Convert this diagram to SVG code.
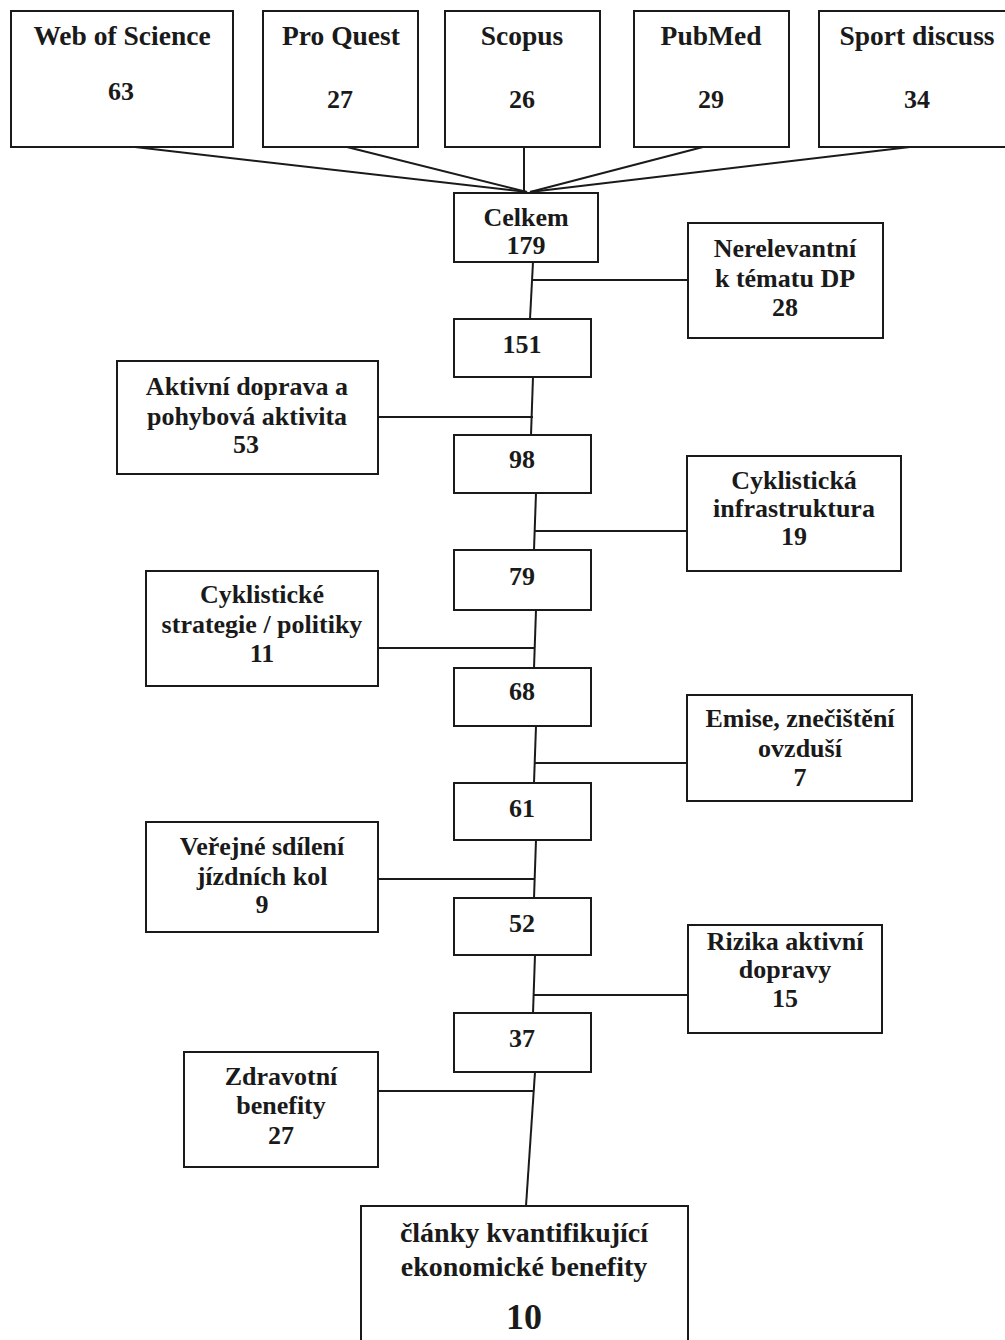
<svg xmlns="http://www.w3.org/2000/svg" width="1005" height="1340" viewBox="0 0 1005 1340">
<style>
.b{fill:#fff;stroke:#1a1a1a;stroke-width:2}
.t{font-family:"Liberation Serif","Times New Roman",serif;font-weight:bold;font-size:26px;fill:#1a1a1a;text-anchor:middle}
.h{font-size:27.5px}
.c line{stroke:#1a1a1a;stroke-width:2}
</style>
<rect width="1005" height="1340" fill="#fff"/>
<g class="c" id="connectors">
<line x1="135" y1="147" x2="527" y2="192"/>
<line x1="347" y1="147" x2="527" y2="192"/>
<line x1="524" y1="147" x2="524" y2="193"/>
<line x1="703" y1="147" x2="530" y2="192"/>
<line x1="910" y1="147" x2="530" y2="192"/>
<line x1="533" y1="262" x2="530" y2="319"/>
<line x1="533" y1="280" x2="688" y2="280"/>
<line x1="533" y1="377" x2="531" y2="435"/>
<line x1="378" y1="417" x2="533" y2="417"/>
<line x1="536" y1="493" x2="534" y2="550"/>
<line x1="535" y1="531" x2="688" y2="531"/>
<line x1="536" y1="610" x2="534" y2="668"/>
<line x1="378" y1="648" x2="535" y2="648"/>
<line x1="536" y1="726" x2="534" y2="783"/>
<line x1="535" y1="763" x2="688" y2="763"/>
<line x1="536" y1="840" x2="534" y2="898"/>
<line x1="378" y1="879" x2="535" y2="879"/>
<line x1="535" y1="955" x2="533" y2="1013"/>
<line x1="534" y1="995" x2="688" y2="995"/>
<line x1="535" y1="1072" x2="526" y2="1206"/>
<line x1="378" y1="1091" x2="534" y2="1091"/>
</g>
<g id="wos"><rect class="b" x="11" y="11" width="222" height="136"/><text class="t h" x="122" y="45">Web of Science</text><text class="t" x="121" y="100">63</text></g>
<g id="proquest"><rect class="b" x="263" y="11" width="155" height="136"/><text class="t h" x="341" y="45">Pro Quest</text><text class="t" x="340" y="108">27</text></g>
<g id="scopus"><rect class="b" x="445" y="11" width="155" height="136"/><text class="t h" x="522" y="45">Scopus</text><text class="t" x="522" y="108">26</text></g>
<g id="pubmed"><rect class="b" x="634" y="11" width="155" height="136"/><text class="t h" x="711" y="45">PubMed</text><text class="t" x="711" y="108">29</text></g>
<g id="sport"><rect class="b" x="819" y="11" width="200" height="136"/><text class="t h" x="917" y="45">Sport discuss</text><text class="t" x="917" y="108">34</text></g>
<g id="celkem"><rect class="b" x="454" y="193" width="144" height="69"/><text class="t" x="526" y="226">Celkem</text><text class="t" x="526" y="254">179</text></g>
<g id="nerelevantni"><rect class="b" x="688" y="223" width="195" height="115"/><text class="t" x="785" y="257">Nerelevantní</text><text class="t" x="785" y="287">k tématu DP</text><text class="t" x="785" y="316">28</text></g>
<g id="n151"><rect class="b" x="454" y="319" width="137" height="58"/><text class="t" x="522" y="353">151</text></g>
<g id="aktivni"><rect class="b" x="117" y="361" width="261" height="113"/><text class="t" x="247" y="395">Aktivní doprava a</text><text class="t" x="247" y="425">pohybová aktivita</text><text class="t" x="246" y="453">53</text></g>
<g id="n98"><rect class="b" x="454" y="435" width="137" height="58"/><text class="t" x="522" y="468">98</text></g>
<g id="infrastruktura"><rect class="b" x="687" y="456" width="214" height="115"/><text class="t" x="794" y="489">Cyklistická</text><text class="t" x="794" y="517">infrastruktura</text><text class="t" x="794" y="545">19</text></g>
<g id="n79"><rect class="b" x="454" y="550" width="137" height="60"/><text class="t" x="522" y="585">79</text></g>
<g id="strategie"><rect class="b" x="146" y="571" width="232" height="115"/><text class="t" x="262" y="603">Cyklistické</text><text class="t" x="262" y="633">strategie / politiky</text><text class="t" x="262" y="662">11</text></g>
<g id="n68"><rect class="b" x="454" y="668" width="137" height="58"/><text class="t" x="522" y="700">68</text></g>
<g id="emise"><rect class="b" x="687" y="695" width="225" height="106"/><text class="t" x="800" y="727">Emise, znečištění</text><text class="t" x="800" y="757">ovzduší</text><text class="t" x="800" y="786">7</text></g>
<g id="n61"><rect class="b" x="454" y="783" width="137" height="57"/><text class="t" x="522" y="817">61</text></g>
<g id="sdileni"><rect class="b" x="146" y="822" width="232" height="110"/><text class="t" x="262" y="855">Veřejné sdílení</text><text class="t" x="262" y="885">jízdních kol</text><text class="t" x="262" y="913">9</text></g>
<g id="n52"><rect class="b" x="454" y="898" width="137" height="57"/><text class="t" x="522" y="932">52</text></g>
<g id="rizika"><rect class="b" x="688" y="925" width="194" height="108"/><text class="t" x="785" y="950">Rizika aktivní</text><text class="t" x="785" y="978">dopravy</text><text class="t" x="785" y="1007">15</text></g>
<g id="n37"><rect class="b" x="454" y="1013" width="137" height="59"/><text class="t" x="522" y="1047">37</text></g>
<g id="zdravotni"><rect class="b" x="184" y="1052" width="194" height="115"/><text class="t" x="281" y="1085">Zdravotní</text><text class="t" x="281" y="1114">benefity</text><text class="t" x="281" y="1144">27</text></g>
<g id="final"><rect class="b" x="361" y="1206" width="327" height="150"/><text class="t" x="524" y="1242" style="font-size:28px">články kvantifikující</text><text class="t" x="524" y="1276" style="font-size:28px">ekonomické benefity</text><text class="t" x="524" y="1329" style="font-size:36px">10</text></g>
</svg>
